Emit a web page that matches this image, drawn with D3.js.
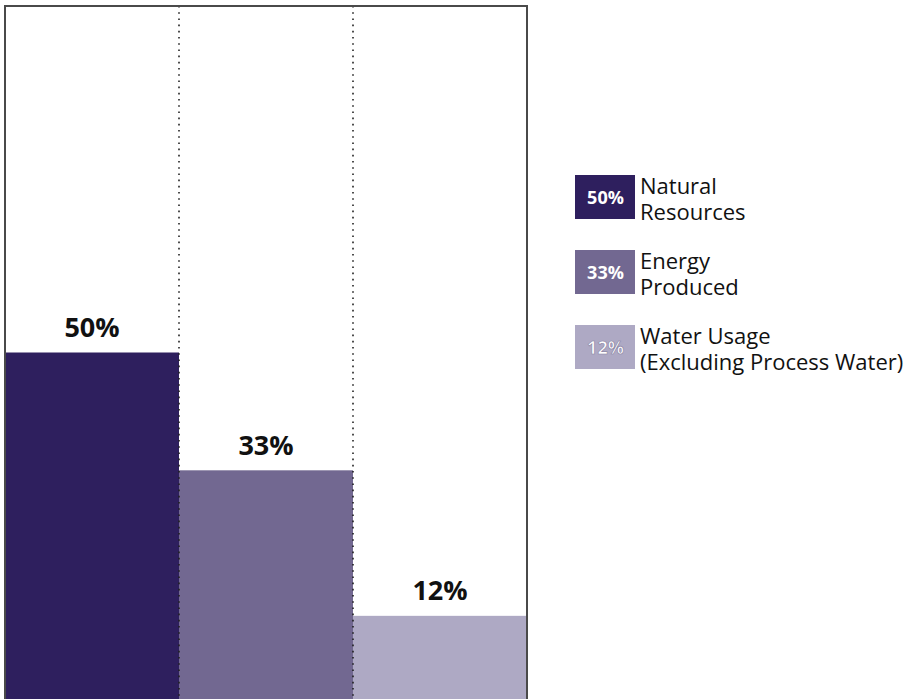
<!DOCTYPE html>
<html>
<head>
<meta charset="utf-8">
<script src="https://cdn.jsdelivr.net/npm/d3@7"></script>
<style>
  body { margin: 0; background: #fff; }
  svg { display: block; font-family: "Open Sans", "Noto Sans", sans-serif; }
</style>
</head>
<body>
<svg id="chart" width="916" height="699"></svg>
<script>
// chart data
const categories = ["Natural Resources", "Energy Produced", "Water Usage (Excluding Process Water)"];
const values = [50, 33, 12];
const legendLines = [["Natural", "Resources"], ["Energy", "Produced"], ["Water Usage", "(Excluding Process Water)"]];
const colors = ["#2e1f5e", "#726891", "#aea9c4"];

const svg = d3.select("#chart");

// plot frame
const frameLeft = 5, frameRight = 527, frameTop = 6, frameBottom = 699;

const x = d3.scaleBand().domain(categories).range([frameLeft, frameRight]).padding(0);
const y = d3.scaleLinear().domain([0, 100]).range([frameBottom, frameTop]);

// bars
svg.selectAll("rect.bar")
  .data(values)
  .enter()
  .append("rect")
  .attr("class", "bar")
  .attr("x", (d, i) => x(categories[i]))
  .attr("y", d => y(d))
  .attr("width", x.bandwidth())
  .attr("height", d => y(0) - y(d))
  .attr("fill", (d, i) => colors[i]);

// dotted dividers between columns
svg.selectAll("line.div")
  .data(categories.slice(1))
  .enter()
  .append("line")
  .attr("x1", d => x(d))
  .attr("x2", d => x(d))
  .attr("y1", frameTop)
  .attr("y2", frameBottom)
  .attr("stroke", "#222")
  .attr("stroke-width", 1.6)
  .attr("stroke-dasharray", "1.6,4.6");

// frame (no bottom edge)
svg.append("path")
  .attr("d", `M${frameLeft},${frameBottom}V${frameTop}H${frameRight}V${frameBottom}`)
  .attr("fill", "none")
  .attr("stroke", "#4a4a4a")
  .attr("stroke-width", 2);

// value labels
svg.selectAll("text.val")
  .data(values)
  .enter()
  .append("text")
  .attr("class", "val")
  .attr("x", (d, i) => x(categories[i]) + x.bandwidth() / 2)
  .attr("y", d => y(d) - 15.5)
  .attr("text-anchor", "middle")
  .attr("font-size", 27)
  .attr("font-weight", "bold")
  .attr("fill", "#111")
  .text(d => d + "%");

// legend
const legend = svg.append("g").attr("transform", "translate(575,175)");
const item = legend.selectAll("g")
  .data(values)
  .enter()
  .append("g")
  .attr("transform", (d, i) => `translate(0,${i * 75})`);

item.append("rect")
  .attr("width", 60)
  .attr("height", 44)
  .attr("fill", (d, i) => colors[i]);

item.append("text")
  .attr("x", 30.5)
  .attr("y", 29)
  .attr("text-anchor", "middle")
  .attr("font-size", 18)
  .attr("font-weight", "bold")
  .attr("fill", "#fff")
  .attr("stroke", (d, i) => i === 2 ? "#8d87a6" : "none")
  .attr("stroke-width", 0.7)
  .text(d => d + "%");

item.append("text")
  .attr("x", 65)
  .attr("y", 19)
  .attr("font-size", 22)
  .attr("fill", "#111")
  .selectAll("tspan")
  .data((d, i) => legendLines[i])
  .enter()
  .append("tspan")
  .attr("x", 65)
  .attr("dy", (d, j) => j === 0 ? 0 : 26)
  .text(d => d);
</script>
</body>
</html>
